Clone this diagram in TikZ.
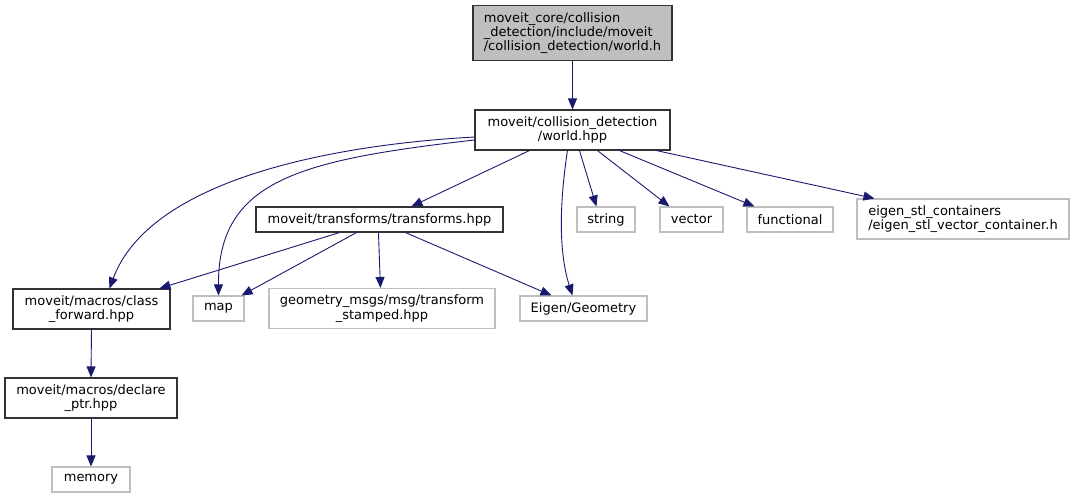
\documentclass[tikz,border=0pt]{standalone}
\usepackage{fontspec}
\setmainfont{DejaVu Sans}
\usetikzlibrary{arrows.meta,calc}
\definecolor{edgeblue}{HTML}{191970}
\definecolor{grayfill}{HTML}{BFBFBF}
\definecolor{grayline}{HTML}{BFBFBF}
\tikzset{
  box/.style={draw=black!80, line width=1.1pt, inner sep=0pt, align=center,
    font=\fontsize{13}{14.3}\selectfont},
  extbox/.style={box, draw=grayline},
  rootbox/.style={box, fill=grayfill},
  dep/.style={draw=edgeblue, line width=0.9pt,
    -{Triangle[length=11pt,width=9pt]}, edgeblue}
}
\begin{document}
\begin{tikzpicture}[x=1pt,y=-1pt]
\useasboundingbox (0,0) rectangle (1075,499);
\node[rootbox, minimum width=199, minimum height=55, align=left] (wh) at (572.5,33)
  {moveit\_core/collision\\\_detection/include/moveit\\/collision\_detection/world.h};
\node[box, minimum width=195, minimum height=40] (whpp) at (572.5,130)
  {moveit/collision\_detection\\/world.hpp};
\node[box, minimum width=247, minimum height=25] (tr) at (379.5,219.5)
  {moveit/transforms/transforms.hpp};
\node[extbox, minimum width=58, minimum height=25] (str) at (606,219.5) {string};
\node[extbox, minimum width=63, minimum height=25] (vec) at (691.5,219.5) {vector};
\node[extbox, minimum width=86, minimum height=25] (fun) at (790,219.5) {functional};
\node[extbox, minimum width=212, minimum height=40, align=left] (eig) at (963,219)
  {eigen\_stl\_containers\\/eigen\_stl\_vector\_container.h};
\node[box, minimum width=157, minimum height=40] (cf) at (91.5,309)
  {moveit/macros/class\\\_forward.hpp};
\node[extbox, minimum width=51, minimum height=25] (map) at (218.5,308.5) {map};
\node[extbox, minimum width=226, minimum height=40] (geo) at (382,308.5)
  {geometry\_msgs/msg/transform\\\_stamped.hpp};
\node[extbox, minimum width=127, minimum height=25] (eg) at (583.5,308.5) {Eigen/Geometry};
\node[box, minimum width=172, minimum height=40] (dp) at (91,398)
  {moveit/macros/declare\\\_ptr.hpp};
\node[extbox, minimum width=78, minimum height=25] (mem) at (91,479.5) {memory};

\draw[dep] (wh.south) -- (whpp.north);
\draw[dep] ($(whpp.south west)+(55,0)$) -- ($(tr.north west)+(156,0)$);
\draw[dep] ($(whpp.west)+(0,7)$) .. controls (330,145) and (150,180) .. ($(cf.north west)+(97,0)$);
\draw[dep] ($(whpp.west)+(0,10)$) .. controls (300,160) and (218,180) .. (map.north);
\draw[dep] ($(whpp.south west)+(93,0)$) .. controls (560,200) and (558,250) .. ($(eg.north west)+(53,0)$);
\draw[dep] ($(whpp.south west)+(105,0)$) -- ($(str.north west)+(20,0)$);
\draw[dep] ($(whpp.south west)+(123,0)$) -- ($(vec.north west)+(10,0)$);
\draw[dep] ($(whpp.south west)+(145,0)$) -- ($(fun.north west)+(8,0)$);
\draw[dep] ($(whpp.south west)+(182,0)$) -- ($(eig.north west)+(18,0)$);
\draw[dep] ($(tr.south west)+(84,0)$) -- ($(cf.north west)+(147,0)$);
\draw[dep] ($(tr.south west)+(101,0)$) -- ($(map.north east)+(-3,0)$);
\draw[dep] ($(tr.south west)+(123,0)$) -- ($(geo.north west)+(112,0)$);
\draw[dep] ($(tr.south west)+(150,0)$) -- ($(eg.north west)+(32,0)$);
\draw[dep] (cf.south) -- (dp.north);
\draw[dep] (dp.south) -- (mem.north);
\end{tikzpicture}
\end{document}
